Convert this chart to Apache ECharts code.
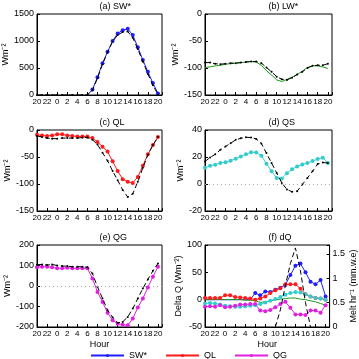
<!DOCTYPE html>
<html><head><meta charset="utf-8">
<script src="https://cdn.jsdelivr.net/npm/echarts@6/dist/echarts.min.js"></script>
<style>html,body{margin:0;padding:0;background:#fff}#c{width:359px;height:359px}</style>
</head><body><div id="c"></div>
<script>
// hours 20:00 day 1 .. 20:00 day 2 (value 44 = 20 h next day)
const HOURS = [20,21,22,23,24,25,26,27,28,29,30,31,32,33,34,35,36,37,38,39,40,41,42,43,44];

// (a) SW*
const SW_OBS = [null,null,null,null,null,null,null,null,null,null,0,100,330,590,800,1000,1140,1200,1225,1110,885,650,430,220,30];
const SW_MOD = [0,0,0,0,0,0,0,0,0,0,0,90,310,570,790,990,1110,1165,1175,1060,850,620,390,180,10];
// (b) LW*
const LW_OBS = [-99,-98,-96,-95,-93,-92,-91,-90,-89,-88,-89,-95,-105,-113,-122,-125,-121,-117,-112,-106,-99,-96,-96,-98,-101];
const LW_MOD = [-90,-90,-92,-93,-92,-91,-91,-90,-89,-88,-88,-91,-99,-107,-116,-121,-122,-118,-112,-107,-100,-96,-95,-95,-92];
// (c) QL
const QL_OBS = [-9,-10,-11,-10,-8,-8,-10,-11,-12,-12,-12,-15,-22,-31,-40,-58,-76,-91,-96,-98,-87,-66,-45,-28,-13];
const QL_MOD = [-11,-13,-15,-16,-16,-15,-15,-15,-15,-14,-14,-18,-27,-42,-57,-76,-93,-111,-124,-118,-96,-70,-46,-28,-13];
// (d) QS
const QS_OBS = [12,13.5,14.3,15.5,16.2,17.2,18.7,20.4,22.1,23.6,23.4,21,15,9.4,4.5,4,8,11,13,14.5,15.5,17,18.5,19.5,15.5];
const QS_MOD = [16.7,19.7,22,25.3,27.8,30.2,32.7,33.9,34.6,34.4,33.4,30,22.9,15.5,8.2,0.8,-4,-5.8,-5.3,-0.4,4.5,9.4,14.8,16,15.5];
// (e) QG
const QG_OBS = [91,94,94,91,86,86,89,86,86,86,86,37,-29,-78,-131,-167,-184,-189,-192,-159,-105,-61,-7,45,94];
const QG_MOD = [104,105,102,105,100,97,97,94,94,94,91,61,-4,-61,-118,-153,-180,-175,-151,-110,-61,-12,32,74,110];
// (f) dQ differences and melt
const D_SW = [0,0,0,0,0,0,0,0,0,0,12,8,15,14,18,22,27,45,62,66,50,33,28,36,6];
const D_LW = [0,0,0,0,0,0,0,0,-1,-1,-2,-5,-4,-2,0,1,2,3,3,1,0,-2,-4,-7,-10];
const D_QL = [3,3,3,3,8,8,5,4,3,2,0,2,6,12,17,21,28,28,28,20,10,6,3,2,0];
const D_QS = [-7,-6,-7,-9,-11,-12,-13,-13,-12,-11,-10,-8,-5,-2,1,5,9,12,14,13,10,6,3,2,0];
const D_QG = [-13,-12,-13,-10,-14,-13,-11,-9,-9,-8,-8,-20,-21,-19,-14,-8,-4,-15,-27,-27,-28,-20,-20,-24,-10];
const MELT = [null,null,null,null,null,null,null,null,null,null,null,null,null,null,0,0.35,0.85,1.3,1.62,1.15,0.5,0,null,null,null];

const C = {blue:'#1f1fff', red:'#ff1a1a', cyan:'#33cccc', mag:'#e020e0', green:'#1a9a1a', black:'#000'};
const FONT = 'Liberation Sans, Arial, sans-serif';
const pair = arr => HOURS.map((h,i)=>[h, arr[i]]);

const grids = [
  {left:37, top:14, width:125, height:81},
  {left:205, top:14, width:127, height:81},
  {left:37, top:130, width:125, height:81},
  {left:205, top:130, width:127, height:81},
  {left:37, top:245, width:125, height:82},
  {left:205, top:245, width:127, height:82}
];
const titles = ['(a) SW*','(b) LW*','(c) QL','(d) QS','(e) QG','(f) dQ'];
const yRanges = [[0,1500,500],[-150,0,50],[-150,0,50],[-20,40,20],[-200,200,100],[-50,100,50]];

const xAxes = grids.map((g,i)=>({
  type:'value', gridIndex:i, min:20, max:44.8, interval:2,
  axisLine:{show:true, onZero:false, lineStyle:{color:'#000', width:1}},
  axisTick:{show:true, inside:true, length:3, lineStyle:{color:'#000'}},
  splitLine:{show:false},
  axisLabel:{fontSize:8, color:'#000', margin:3, fontFamily:FONT,
    formatter:v=> (Number.isInteger(v) && v%2===0 && v<=44) ? String(v%24) : ''},
  name: i>=4 ? 'Hour' : '', nameLocation:'middle', nameGap:13,
  nameTextStyle:{fontSize:9, color:'#000', fontFamily:FONT}
}));
const yAxes = grids.map((g,i)=>({
  type:'value', gridIndex:i, min:yRanges[i][0], max:yRanges[i][1], interval:yRanges[i][2],
  axisLine:{show:true, onZero:false, lineStyle:{color:'#000', width:1}},
  axisTick:{show:true, inside:true, length:3, lineStyle:{color:'#000'}},
  splitLine:{show:false},
  axisLabel:{fontSize:9, color:'#000', margin:3, fontFamily:FONT, formatter:v=>String(v)},
  name: i===5 ? 'Delta Q (Wm⁻²)' : 'Wm⁻²', nameLocation:'middle', nameRotate:90,
  nameGap: i===5 ? 15 : 18,
  nameTextStyle:{fontSize:9, color:'#000', fontFamily:FONT}
}));
yAxes.push({
  type:'value', gridIndex:5, position:'right', min:0, max:1.68, interval:0.5,
  axisLine:{show:true, onZero:false, lineStyle:{color:'#000'}},
  axisTick:{show:true, inside:true, length:3, lineStyle:{color:'#000'}},
  splitLine:{show:false},
  axisLabel:{fontSize:9, color:'#000', margin:3, fontFamily:FONT,
    formatter:v=> (Math.abs(v*2-Math.round(v*2))<1e-6) ? String(v) : ''},
  name:'Melt hr⁻¹ (mm.w.e)', nameLocation:'middle', nameRotate:90, nameGap:15,
  nameTextStyle:{fontSize:9, color:'#000', fontFamily:FONT}
});

function line(name, data, gi, color, opts={}) {
  return Object.assign({
    type:'line', name, xAxisIndex:gi, yAxisIndex:gi, data:pair(data),
    showSymbol:true, symbol:'circle', symbolSize:4, connectNulls:false,
    itemStyle:{color}, lineStyle:{color, width:1}, animation:false, z:3
  }, opts);
}
function dashed(data, gi, yi) {
  return {
    type:'line', name:'obs', xAxisIndex:gi, yAxisIndex: yi==null?gi:yi, data:pair(data),
    symbol:'circle', symbolSize:2, itemStyle:{color:'#000'},
    lineStyle:{color:'#000', width:1, type:[5,3]}, animation:false, z:4
  };
}
const zeroLine = {silent:true, symbol:'none', label:{show:false},
  lineStyle:{color:'#aaa', type:[1,3], width:1}, data:[{yAxis:0}]};
const hideZero = v => (v && v[1]===0) ? 0 : 4;

const series = [
  line('SW*', SW_OBS, 0, C.blue, {symbolSize:hideZero}), dashed(SW_MOD, 0),
  line('LW*', LW_OBS, 1, C.green, {showSymbol:false}), dashed(LW_MOD, 1),
  line('QL', QL_OBS, 2, C.red), dashed(QL_MOD, 2),
  Object.assign(line('QS', QS_OBS, 3, C.cyan), {markLine:zeroLine}), dashed(QS_MOD, 3),
  Object.assign(line('QG', QG_OBS, 4, C.mag), {markLine:zeroLine}), dashed(QG_MOD, 4),
  line('SW*', D_SW, 5, C.blue, {symbolSize:hideZero}),
  line('LW*', D_LW, 5, C.green, {showSymbol:false}),
  line('QL', D_QL, 5, C.red),
  line('QS', D_QS, 5, C.cyan),
  line('QG', D_QG, 5, C.mag),
  Object.assign(dashed(MELT, 5, 6), {symbol:'none'})
];

const graphic = grids.map((g,i)=>({
  type:'text', left: g.left + g.width/2, top: g.top - 12,
  style:{text:titles[i], fontSize:9, fill:'#000', font:'9px '+FONT, textAlign:'center'}
}));

const chart = echarts.init(document.getElementById('c'), null, {renderer:'canvas'});
chart.setOption({
  animation:false,
  textStyle:{fontFamily:FONT},
  grid: grids.map(g=>Object.assign({show:true, borderColor:'#000', borderWidth:1, backgroundColor:'transparent'}, g)),
  xAxis:xAxes, yAxis:yAxes, series, graphic,
  legend:{data:['SW*','QL','QG'], left:85, top:346, itemWidth:33, itemHeight:4, itemGap:18,
    textStyle:{fontSize:9, color:'#000', fontFamily:FONT}}
});
</script></body></html>
